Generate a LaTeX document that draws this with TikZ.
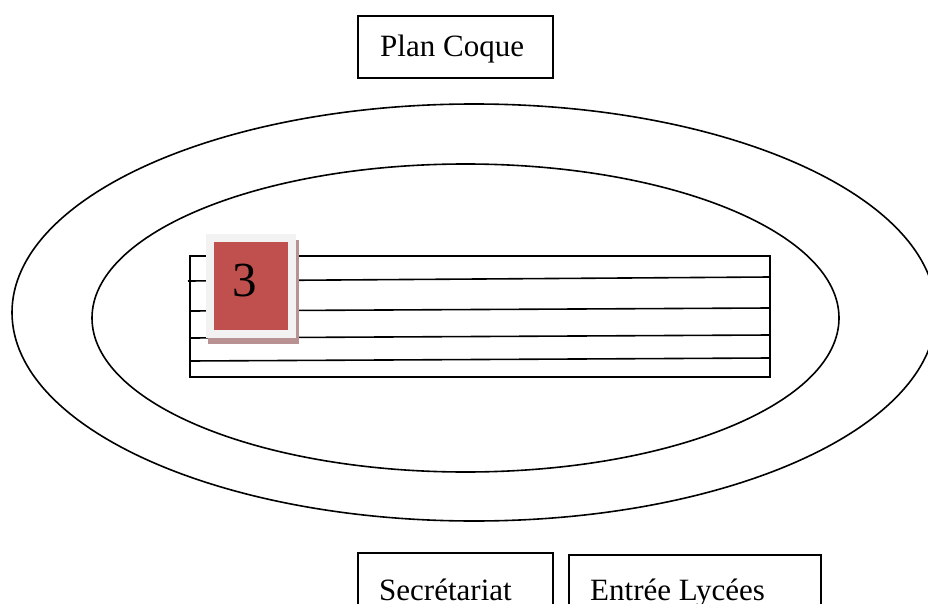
\documentclass[tikz,border=0pt]{standalone}
\usepackage{fontspec}
\setmainfont{Liberation Serif}
\begin{document}
\begin{tikzpicture}[x=1pt,y=-1pt,
  line/.style={draw=black,line width=1.6pt},
  labelbox/.style={draw=black,line width=1.6pt,fill=white,inner sep=0pt},
  lbl/.style={font=\fontsize{31}{36}\selectfont,inner sep=0pt}]
\useasboundingbox (0,0) rectangle (928,604);
\clip (0,0) rectangle (928,604);
% ellipses
\draw[line] (474,312.5) ellipse [x radius=462, y radius=208.5];
\draw[line] (465.5,318) ellipse [x radius=373.5, y radius=154];
% table rectangle
\coordinate (tl) at (190,256);
\coordinate (br) at (770,377);
\draw[line] (tl) rectangle (br);
\coordinate (a1) at (188,281); \coordinate (b1) at (770,277);
\coordinate (a2) at (190,311); \coordinate (b2) at (770,308);
\coordinate (a3) at (190,338); \coordinate (b3) at (770,335);
\coordinate (a4) at (190,361); \coordinate (b4) at (770,358);
\draw[line] (a1) -- (b1);
\draw[line] (a2) -- (b2);
\draw[line] (a3) -- (b3);
\draw[line] (a4) -- (b4);
% red marker
\node[fill={rgb,255:red,184;green,146;blue,146},minimum width=91pt,minimum height=104pt,inner sep=0pt,anchor=north west] (shadow) at (208,240) {};
\node[fill={rgb,255:red,242;green,242;blue,242},minimum width=90pt,minimum height=104pt,inner sep=0pt,anchor=north west] (frame) at (206,234) {};
\node[fill={rgb,255:red,192;green,80;blue,77},minimum width=74pt,minimum height=88pt,inner sep=0pt,anchor=north west] (red) at (214,242) {};
\node[font=\fontsize{49}{54}\selectfont,inner sep=0pt] (three) at (245,281) {3};
% boxes
\node[labelbox,minimum width=195pt,minimum height=62pt,anchor=north west] (plan) at (357,15) {};
\node[lbl,anchor=base west] (plantext) at (380,57) {Plan Coque};
\node[labelbox,minimum width=195pt,minimum height=90pt,anchor=north west] (sec) at (357,552) {};
\node[lbl,anchor=base west] (sectext) at (379,600) {Secrétariat};
\node[labelbox,minimum width=252pt,minimum height=90pt,anchor=north west] (ent) at (568,554) {};
\node[lbl,anchor=base west] (enttext) at (590,600) {Entrée Lycées};
\end{tikzpicture}
\end{document}
